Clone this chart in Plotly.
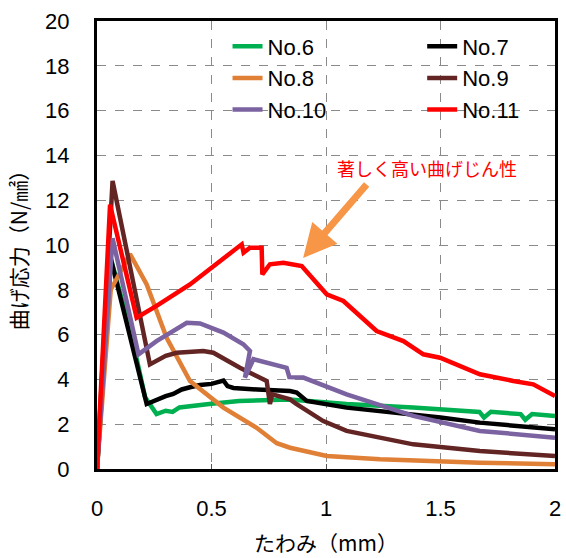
import plotly.graph_objects as go

# ---- data ----
names = ["No.6", "No.7", "No.8", "No.9", "No.10", "No.11"]
colors = ["#00B050", "#000000", "#E07F36", "#632523", "#7B62A0", "#FF0000"]

x6 = [0, 0.06, 0.15, 0.21, 0.26, 0.30, 0.33, 0.36, 0.49, 0.62, 0.84, 1.09, 1.38, 1.67, 1.69, 1.72, 1.85, 1.87, 1.90, 2.0]
y6 = [0, 9.4, 6.0, 3.2, 2.45, 2.6, 2.55, 2.75, 2.9, 3.04, 3.1, 2.9, 2.74, 2.55, 2.3, 2.55, 2.45, 2.2, 2.45, 2.37]

x7 = [0, 0.06, 0.217, 0.26, 0.30, 0.333, 0.37, 0.406, 0.45, 0.50, 0.552, 0.57, 0.596, 0.70, 0.843, 0.872, 0.916, 1.09, 1.381, 1.50, 1.672, 1.80, 2.0]
y7 = [0, 9.4, 2.9, 3.1, 3.25, 3.35, 3.55, 3.65, 3.75, 3.8, 3.95, 3.7, 3.62, 3.55, 3.48, 3.41, 3.04, 2.74, 2.44, 2.3, 2.07, 1.95, 1.77]

x8 = [0, 0.06, 0.144, 0.217, 0.304, 0.406, 0.552, 0.697, 0.785, 0.843, 1.003, 1.236, 1.672, 2.0]
y8 = [0, 8.0, 9.6, 8.24, 5.86, 3.93, 2.74, 1.84, 1.15, 0.95, 0.58, 0.43, 0.28, 0.21]

x9 = [0, 0.068, 0.231, 0.30, 0.348, 0.464, 0.508, 0.624, 0.741, 0.755, 0.765, 0.843, 0.872, 0.988, 1.09, 1.381, 1.672, 2.0]
y9 = [0, 12.86, 4.67, 5.05, 5.19, 5.27, 5.19, 4.52, 3.93, 2.9, 3.33, 3.11, 2.89, 2.14, 1.70, 1.10, 0.80, 0.58]

x10 = [0, 0.068, 0.181, 0.26, 0.392, 0.45, 0.552, 0.639, 0.668, 0.646, 0.683, 0.828, 0.84, 0.901, 1.09, 1.381, 1.672, 2.0]
y10 = [0, 10.3, 5.12, 5.71, 6.53, 6.5, 6.09, 5.57, 5.27, 4.08, 4.9, 4.52, 4.1, 4.08, 3.33, 2.37, 1.70, 1.40]

x11 = [0, 0.057, 0.173, 0.26, 0.406, 0.552, 0.632, 0.64, 0.668, 0.719, 0.722, 0.755, 0.814, 0.894, 1.003, 1.076, 1.221, 1.338, 1.425, 1.498, 1.672, 1.818, 1.905, 2.0]
y11 = [0, 11.8, 6.75, 7.28, 8.24, 9.43, 10.03, 9.66, 9.88, 9.88, 8.69, 9.14, 9.21, 9.06, 7.8, 7.5, 6.16, 5.71, 5.12, 4.97, 4.23, 3.93, 3.78, 3.26]

xs = [x6, x7, x8, x9, x10, x11]
ys = [y6, y7, y8, y9, y10, y11]
legend_ids = ["legend", "legend2", "legend", "legend2", "legend", "legend2"]

x_ticks = [0, 0.5, 1, 1.5, 2]
x_ticklabels = ["0", "0.5", "1", "1.5", "2"]
y_ticks = list(range(0, 21, 2))

FONT = "Liberation Sans, Arial, Noto Sans CJK JP, sans-serif"
JFONT = "Noto Sans CJK JP, Liberation Sans"

fig = go.Figure()
for n, c, x, y, lg in zip(names, colors, xs, ys, legend_ids):
    fig.add_trace(go.Scatter(x=x, y=y, mode="lines", name=n,
                             line=dict(color=c, width=4.5), legend=lg))

legend_common = dict(font=dict(family=FONT, size=22, color="#000000"),
                     bgcolor="rgba(0,0,0,0)", yanchor="top", xanchor="left",
                     tracegroupgap=0, itemwidth=30, borderwidth=0)
fig.update_layout(
    width=566, height=558,
    margin=dict(l=97, r=11, t=21, b=89, autoexpand=False),
    paper_bgcolor="white", plot_bgcolor="white",
    font=dict(family=FONT, color="#000000"),
    legend=dict(x=0.285, y=0.99, **legend_common),
    legend2=dict(x=0.71, y=0.99, **legend_common),
    xaxis=dict(range=[0, 2], tickvals=x_ticks, ticktext=x_ticklabels,
               showgrid=True, gridcolor="#8a8a8a", griddash="dash", gridwidth=1.3,
               showline=True, linecolor="black", linewidth=3, mirror=True,
               ticks="inside", ticklen=5, tickcolor="#555", tickwidth=1,
               ticklabelstandoff=18, automargin=False,
               tickfont=dict(family=FONT, size=22),
               zeroline=False,
               title=dict(text="たわみ（mm）", font=dict(family=JFONT, size=21), standoff=16)),
    yaxis=dict(range=[0, 20], tickvals=y_ticks,
               showgrid=True, gridcolor="#8a8a8a", griddash="dash", gridwidth=1.3,
               showline=True, linecolor="black", linewidth=3, mirror=True,
               ticks="", ticklabelstandoff=20, automargin=False,
               tickfont=dict(family=FONT, size=22),
               zeroline=False,
               title=dict(text="曲げ応力（N/㎟）", font=dict(family=JFONT, size=21), standoff=12)),
)

fig.add_annotation(x=0.90, y=9.42, ax=1.183, ay=12.77, axref="x", ayref="y",
                   xref="x", yref="y", text="", showarrow=True,
                   arrowhead=2, arrowsize=0.95, arrowwidth=7, arrowcolor="#F79646")
fig.add_annotation(x=1.441, y=13.44, xref="x", yref="y", text="著しく高い曲げじん性",
                   showarrow=False, font=dict(family="Noto Sans CJK JP", size=18, color="#FF0000"))

fig.write_html("out.html")
